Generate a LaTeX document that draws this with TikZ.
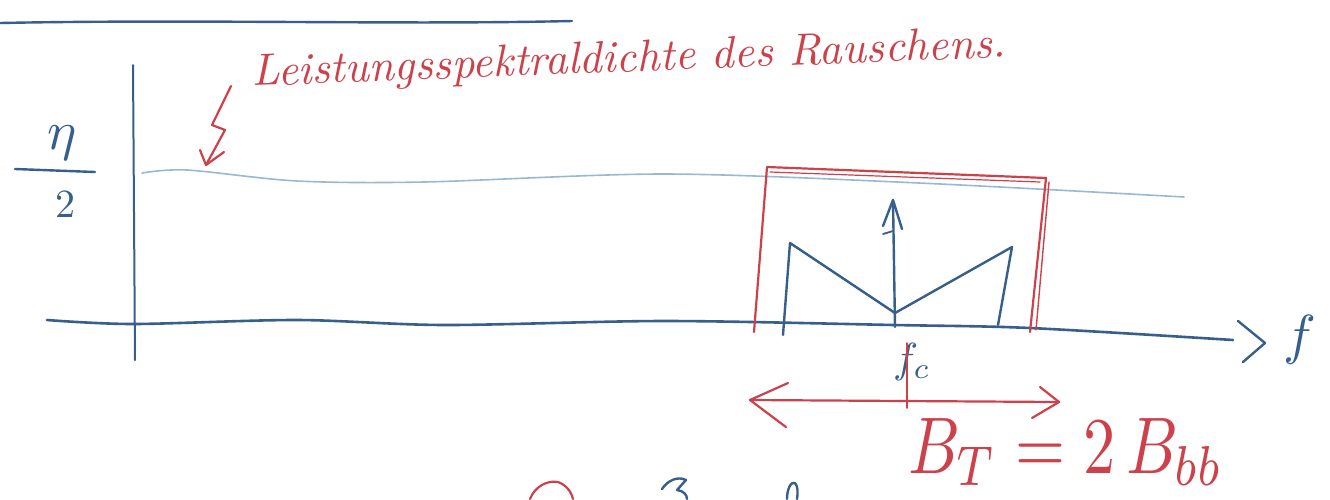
\documentclass[tikz,border=0pt]{standalone}
\usepackage{graphicx}
\definecolor{inkblue}{RGB}{55,95,140}
\definecolor{lightink}{RGB}{150,185,212}
\definecolor{inkred}{RGB}{205,65,75}
\tikzset{
  bluepen/.style={draw=inkblue, line width=2.4pt, line cap=round, line join=round},
  redpen/.style={draw=inkred, line width=2.2pt, line cap=round, line join=round},
  lightpen/.style={draw=lightink, line width=1.6pt, line cap=round},
  bluetext/.style={text=inkblue, inner sep=0pt},
  redtext/.style={text=inkred, inner sep=0pt}
}
\begin{document}
\begin{tikzpicture}[x=1pt,y=-1pt]
\useasboundingbox (0,0) rectangle (1330,499);
\fill[white] (0,0) rectangle (1330,499);

% top line
\draw[bluepen] (0,23) .. controls (200,19) and (400,25) .. (572,21);

% axes
\coordinate (ytop) at (133,65);
\coordinate (ybot) at (135,360);
\draw[bluepen, line width=2pt] (ytop) -- (ybot);
\draw[bluepen, line width=2.6pt] plot[smooth] coordinates {(47,320) (133,324) (297,320) (445,325) (665,321) (894,325) (1030,328) (1233,340)};
\coordinate (ch1) at (1238,321);
\coordinate (ch2) at (1265,343);
\coordinate (ch3) at (1243,362);
\draw[bluepen] (ch1) -- (ch2) -- (ch3);
\node[bluetext] (flab) at (1300,340) {\scalebox{5.5}{$f$}};

% eta / 2
\node[bluetext] (eta) at (62,143) {\scalebox{5.5}{$\eta$}};
\coordinate (bar1) at (15,169);
\coordinate (bar2) at (95,172);
\draw[bluepen] (bar1) -- (bar2);
\node[bluetext] (two) at (65,205) {\scalebox{4}{$2$}};

% noise PSD line
\draw[lightpen] plot[smooth] coordinates {(142,173) (187,170) (297,181) (424,182) (665,174) (919,183) (1184,197)};

% annotation
\node[redtext, anchor=base west, rotate=2.2] (anno) at (252,86)
  {\resizebox{755pt}{!}{\itshape Leistungsspektraldichte des Rauschens.}};
\coordinate (z0) at (231,86);
\coordinate (z1) at (212,125);
\coordinate (z2) at (225,130);
\coordinate (z3) at (206,165);
\draw[redpen] (z0) -- (z1) -- (z2) -- (z3);
\draw[redpen] (200,150) -- (z3) -- (224,152);

% red filter box
\coordinate (bl) at (754,332);
\coordinate (tl) at (767,167);
\coordinate (tr) at (1046,178);
\coordinate (br) at (1030,332);
\draw[redpen] (bl) -- (tl) -- (tr) -- (br);
\draw[redpen, line width=1.4pt] (1049,182) -- (1036,330);
\draw[redpen, line width=1.2pt] (770,172) -- (1040,182);

% spectrum M shape
\coordinate (m1) at (783,335);
\coordinate (m2) at (790,243);
\coordinate (m3) at (895,313);
\coordinate (m4) at (1012,247);
\coordinate (m5) at (998,325);
\draw[bluepen] (m1) -- (m2) -- (m3) -- (m4) -- (m5);
\coordinate (cb) at (895,327);
\coordinate (ct) at (893,200);
\draw[bluepen] (cb) -- (ct);
\draw[bluepen] (883,226) -- (ct) -- (902,229);
\draw[bluepen, line width=1.8pt] (883,234) -- (893,231);

% fc label
\node[bluetext] (fc) at (912,362) {\scalebox{4.2}{$f_c$}};

% bandwidth arrow
\coordinate (al) at (750,400);
\coordinate (ar) at (1059,402);
\draw[redpen] (al) -- (ar);
\draw[redpen] (788,383) -- (al) -- (786,427);
\draw[redpen] (1040,387) -- (ar) -- (1032,418);
\coordinate (tk1) at (907,343);
\coordinate (tk2) at (907,408);
\draw[redpen, line width=1.8pt] (tk1) -- (tk2);

\node[redtext, anchor=base west] (bt) at (908,473) {\scalebox{1}[1.25]{\resizebox{315pt}{!}{$B_T = 2\,B_{bb}$}}};

% cut-off fragments at the bottom edge
\draw[redpen] (530,499) .. controls (535,486) and (548,480) .. (558,482) .. controls (566,485) and (571,491) .. (573,499);
\draw[bluepen] (662,489) .. controls (668,480) and (678,476) .. (686,480) -- (677,490) .. controls (684,491) and (687,495) .. (687,499);
\draw[bluepen] (787,499) .. controls (787,489) and (791,481) .. (795,483) .. controls (798,486) and (798,493) .. (797,499);
\end{tikzpicture}
\end{document}
